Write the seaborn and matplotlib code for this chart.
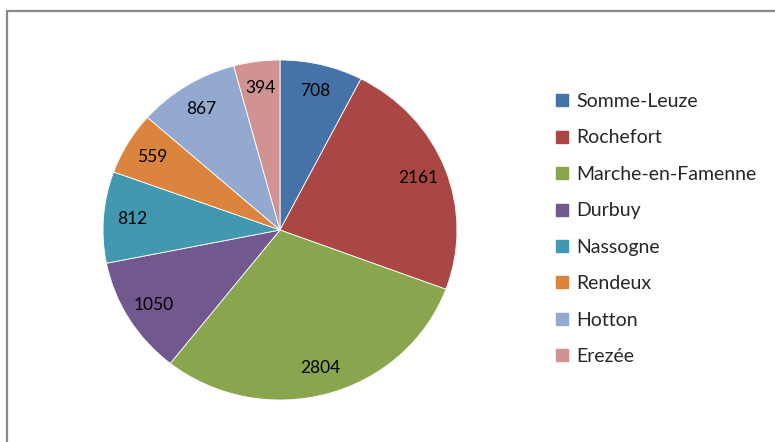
import matplotlib
matplotlib.use("Agg")
import matplotlib.pyplot as plt
import seaborn as sns
from matplotlib.lines import Line2D

communes = ["Somme-Leuze", "Rochefort", "Marche-en-Famenne", "Durbuy",
            "Nassogne", "Rendeux", "Hotton", "Erezée"]
values = [708, 2161, 2804, 1050, 812, 559, 867, 394]
colors = ["#4572A7", "#AA4643", "#89A54E", "#71588F",
          "#4198AF", "#DB843D", "#93A9CF", "#D19392"]

sns.set_theme(style="white")
plt.rcParams["font.family"] = ["Lato", "DejaVu Sans"]

W, H = 775, 442
fig = plt.figure(figsize=(W / 100, H / 100), dpi=100)

# pie centred at (280, 230) px, slightly wider than tall as in the original
cx, cy, rx, ry = 280, 230, 177, 170
ax = fig.add_axes([(cx - rx) / W, (H - cy - ry) / H, 2 * rx / W, 2 * ry / H])
wedges, texts = ax.pie(values, colors=sns.color_palette(colors), startangle=90,
                       counterclock=False, labels=[str(v) for v in values],
                       labeldistance=0.84, radius=1,
                       wedgeprops=dict(edgecolor="white", linewidth=0.6),
                       textprops=dict(fontsize=12.5, color="black"))
for t in texts:
    t.set_ha("center")
    t.set_va("center")
ax.set_xlim(-1.0, 1.0)
ax.set_ylim(-1.0, 1.0)
ax.set_aspect("auto")
ax.axis("off")

# legend with square markers
handles = [Line2D([], [], marker="s", linestyle="none", markersize=8,
                  markerfacecolor=c, markeredgecolor=c) for c in colors]
fig.legend(handles, communes, loc="upper left",
           bbox_to_anchor=(555 / W, 1 - 93 / H), frameon=False,
           fontsize=14, labelspacing=1.0, handlelength=0.75,
           handletextpad=0.35, borderaxespad=0, borderpad=0)

# chart frame (only left and top edges visible)
gray = "#888888"
fig.add_artist(Line2D([7 / W, 7 / W], [0, 1 - 11 / H], color=gray, lw=1.6,
                      transform=fig.transFigure))
fig.add_artist(Line2D([7 / W, 1], [1 - 11 / H, 1 - 11 / H], color=gray, lw=1.6,
                      transform=fig.transFigure))

fig.savefig("out.png", dpi=100)
